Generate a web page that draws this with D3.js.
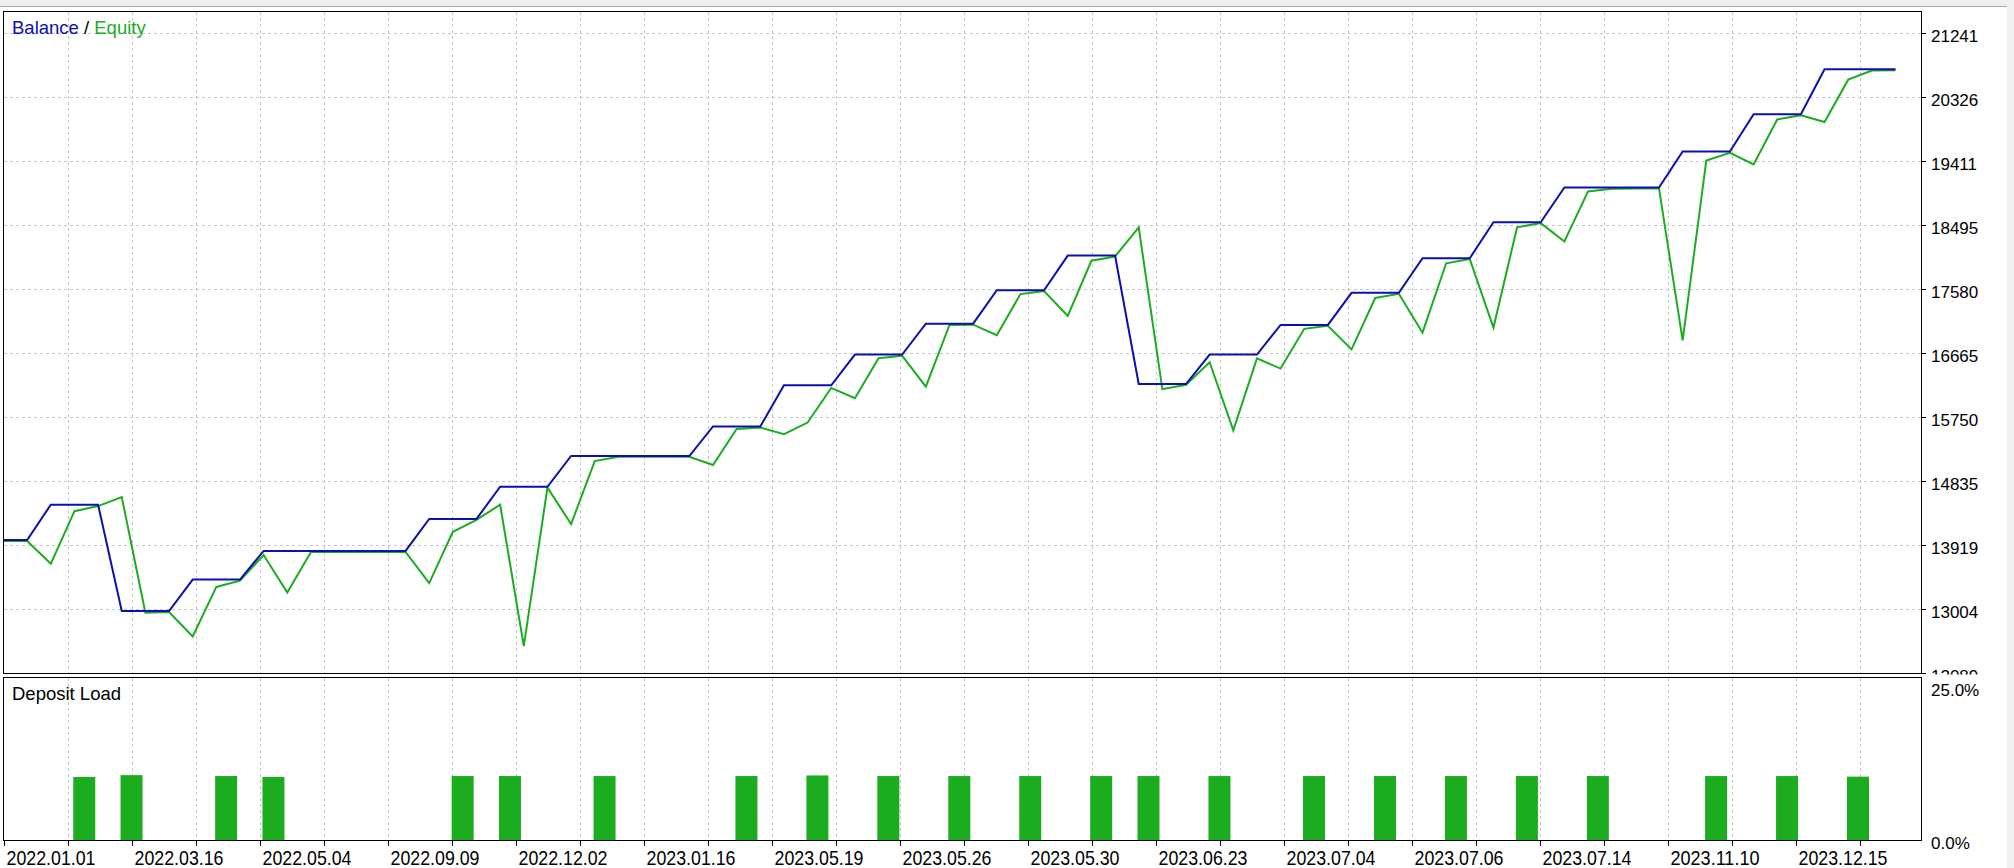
<!DOCTYPE html>
<html><head><meta charset="utf-8">
<script src="https://cdn.jsdelivr.net/npm/d3@7"></script>
<style>html,body{margin:0;padding:0;background:#fff;} svg{display:block;}</style>
</head><body>
<svg id="c" width="2014" height="868"></svg>
<script>
// ---- data ----
const balance = [13990,13990,14495,14495,14495,12975,12975,12975,13425,13425,13425,
  13835,13835,13835,13835,13835,13835,13835,14292,14292,14292,14752,14752,14752,
  15192,15192,15192,15192,15192,15192,15615,15615,15615,16203,16203,16203,
  16643,16643,16643,17084,17084,17084,17562,17562,17562,18058,18058,18058,
  16221,16221,16221,16643,16643,16643,17066,17066,17066,17525,17525,17525,
  18021,18021,18021,18535,18535,18535,19031,19031,19031,19031,19031,
  19546,19546,19546,20078,20078,20078,20721,20721,20721,20721];
const equity = [13975,13975,13650,14403,14476,14605,12952,12960,12612,13320,13410,
  13776,13240,13820,13820,13820,13820,13820,13374,14109,14280,14495,12474,14740,
  14219,15119,15180,15180,15180,15180,15064,15579,15600,15505,15670,16166,
  16019,16589,16625,16184,17066,17070,16919,17507,17550,17194,17984,18045,
  18462,16148,16210,16533,15560,16589,16442,17011,17055,16717,17452,17512,
  16956,17948,18008,17029,18462,18522,18260,18976,19013,19018,19018,
  16846,19417,19527,19362,20005,20065,19968,20574,20703,20708];
const loadIndex = [3,5,9,11,19,21,25,31,34,37,40,43,46,48,51,55,58,61,64,67,72,75,78];
const loadValue = [10.3,10.6,10.45,10.3,10.45,10.45,10.45,10.45,10.55,10.45,10.45,10.45,
  10.45,10.45,10.45,10.45,10.45,10.45,10.45,10.45,10.45,10.45,10.35];
const yTickValues = [12089,13004.2,13919.4,14834.6,15749.8,16665,17580.2,18495.4,19410.6,20325.8,21241];
const yTickLabels = ["12089","13004","13919","14835","15750","16665","17580","18495","19411","20326","21241"];
const xTickLabels = ["2022.01.01","2022.03.16","2022.05.04","2022.09.09","2022.12.02","2023.01.16",
  "2023.05.19","2023.05.26","2023.05.30","2023.06.23","2023.07.04","2023.07.06","2023.07.14",
  "2023.11.10","2023.12.15"];
const loadTicks = [0, 25];
const loadTickLabels = ["0.0%", "25.0%"];

// ---- layout ----
const L = 3.5, R = 1921.5, T = 11.5, B1 = 673.5, T2 = 677.5, B2 = 840.5;
const BLUE = "#0c10b0", GREEN = "#1bad1f", GRID = "#c8c8c8";
const FONT = "'Liberation Sans', Arial, sans-serif";

const svg = d3.select("#c");
svg.append("rect").attr("x",0).attr("y",0).attr("width",2014).attr("height",868).attr("fill","#fff");
svg.append("rect").attr("x",0).attr("y",0).attr("width",2014).attr("height",6).attr("fill","#f0f0f0");
svg.append("rect").attr("x",2007).attr("y",0).attr("width",7).attr("height",868).attr("fill","#f0f0f0");
svg.append("line").attr("x1",0).attr("x2",2007).attr("y1",6.5).attr("y2",6.5).attr("stroke","#a8a8a8");

const x = d3.scaleLinear().domain([0, balance.length - 1]).range([3.5, 1895.5]);
const y = d3.scaleLinear().domain([12089, 21241]).range([673, 33]);
const ly = d3.scaleLinear().domain([0, 25]).range([840, 687]);
const gx = d3.scaleLinear().domain([0, 29]).range([4, 1860]);
const gridK = d3.range(1, 30);

// grid
const grid = svg.append("g").attr("stroke", GRID).attr("stroke-dasharray", "3,3").attr("shape-rendering","crispEdges");
grid.selectAll("line.h").data(yTickValues.slice(1)).join("line").attr("class","h")
  .attr("x1", L).attr("x2", R).attr("y1", d => Math.round(y(d)) + 0.5).attr("y2", d => Math.round(y(d)) + 0.5);
grid.selectAll("line.v1").data(gridK).join("line").attr("class","v1")
  .attr("x1", d => Math.round(gx(d)) + 0.5).attr("x2", d => Math.round(gx(d)) + 0.5).attr("y1", T).attr("y2", B1);
grid.selectAll("line.v2").data(gridK).join("line").attr("class","v2")
  .attr("x1", d => Math.round(gx(d)) + 0.5).attr("x2", d => Math.round(gx(d)) + 0.5).attr("y1", T2).attr("y2", B2);

// lines
const line = d3.line().x((d, i) => x(i)).y(d => y(d));
svg.append("path").datum(equity).attr("d", line).attr("fill","none").attr("stroke", GREEN).attr("stroke-width", 2).attr("stroke-linejoin","miter");
svg.append("path").datum(balance).attr("d", line).attr("fill","none").attr("stroke", BLUE).attr("stroke-width", 2).attr("stroke-linejoin","miter");

// deposit load bars
const step = x(1) - x(0);
svg.append("g").selectAll("rect").data(loadIndex).join("rect")
  .attr("x", d => x(d) - 1.2).attr("width", step * 0.93)
  .attr("y", (d, i) => ly(loadValue[i])).attr("height", (d, i) => ly(0) - ly(loadValue[i]))
  .attr("fill", GREEN);

// borders
svg.append("rect").attr("x", L).attr("y", T).attr("width", R - L).attr("height", B1 - T)
  .attr("fill","none").attr("stroke","#000").attr("shape-rendering","crispEdges");
svg.append("rect").attr("x", L).attr("y", T2).attr("width", R - L).attr("height", B2 - T2)
  .attr("fill","none").attr("stroke","#000").attr("shape-rendering","crispEdges");

// y axis (bottom label is partly hidden by the lower panel, as in the original)
svg.append("clipPath").attr("id","yclip").append("rect").attr("x",-5).attr("y",0).attr("width",90).attr("height",674.5);
const yAxis = d3.axisRight(y).tickValues(yTickValues).tickFormat((d, i) => yTickLabels[i]).tickSize(4).tickPadding(6);
const yg = svg.append("g").attr("transform", `translate(${R},0)`).attr("clip-path","url(#yclip)").call(yAxis);
yg.select(".domain").remove();
yg.selectAll(".tick line").attr("stroke","#000").attr("shape-rendering","crispEdges");
yg.selectAll(".tick text").attr("font-family", FONT).attr("font-size", 17).attr("fill","#000")
  .attr("x", 9.5).attr("dy", null).attr("y", 8.5);

// lower axis labels
svg.append("g").selectAll("text").data(loadTicks).join("text")
  .attr("x", 1931).attr("y", d => ly(d) + 8.5)
  .attr("font-family", FONT).attr("font-size", 17).attr("fill","#000")
  .text((d, i) => loadTickLabels[i]);

// x axis
const xAxis = d3.axisBottom(gx).tickValues(d3.range(0, 30)).tickFormat(k => k % 2 === 0 ? (xTickLabels[k / 2] || "") : "").tickSize(5);
const xg = svg.append("g").attr("transform", `translate(0,${B2})`).call(xAxis);
xg.select(".domain").remove();
xg.selectAll(".tick line").attr("stroke","#000").attr("shape-rendering","crispEdges");
xg.selectAll(".tick text").attr("font-family", FONT).attr("font-size", 21).attr("fill","#000")
  .attr("text-anchor","start").attr("x", 2).attr("dy", null).attr("y", 24)
  .each(function() { if (this.textContent) d3.select(this).attr("textLength", 89).attr("lengthAdjust","spacingAndGlyphs"); });

// titles
const t = svg.append("text").attr("x", 12).attr("y", 34).attr("font-family", FONT).attr("font-size", 18.5);
t.append("tspan").attr("fill", BLUE).text("Balance");
t.append("tspan").attr("fill", "#000").text(" / ");
t.append("tspan").attr("fill", GREEN).text("Equity");
svg.append("text").attr("x", 12).attr("y", 700).attr("font-family", FONT).attr("font-size", 18.5).attr("fill","#000").text("Deposit Load");
</script>
</body></html>
